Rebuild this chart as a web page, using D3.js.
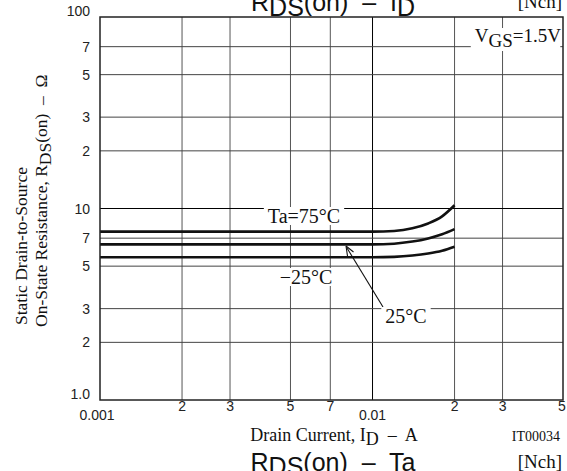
<!DOCTYPE html>
<html><head><meta charset="utf-8">
<script src="https://cdn.jsdelivr.net/npm/d3@7"></script>
<style>body{margin:0;background:#fff} text{white-space:pre}</style>
</head><body><svg id="c" width="567" height="471"></svg>
<script>
const xDomain = [0.001, 0.05];
const yDomain = [1, 100];
const xTicks = [0.001, 0.002, 0.003, 0.005, 0.007, 0.01, 0.02, 0.03, 0.05];
const xTickLabels = ["0.001", "2", "3", "5", "7", "0.01", "2", "3", "5"];
const yTicks = [1, 2, 3, 5, 7, 10, 20, 30, 50, 70, 100];
const yTickLabels = ["1.0", "2", "3", "5", "7", "10", "2", "3", "5", "7", "100"];
const currentA = [0.001, 0.005, 0.01, 0.012, 0.014, 0.016, 0.018, 0.02];
const r75 = [7.57, 7.57, 7.57, 7.63, 7.88, 8.35, 9.1, 10.4];
const r25 = [6.5, 6.5, 6.5, 6.55, 6.72, 6.98, 7.33, 7.8];
const rm25 = [5.56, 5.56, 5.56, 5.59, 5.68, 5.82, 6.02, 6.32];
const seriesList = [r75, r25, rm25];

const svg = d3.select("#c");
const L = 100, R = 563, T = 17, B = 400;
const x = d3.scaleLog().domain(xDomain).range([L, R]);
const y = d3.scaleLog().domain(yDomain).range([B, T]);
const sans = "'Liberation Sans', Arial, sans-serif";
const serif = "'Liberation Serif', 'Times New Roman', serif";

// grid
const g = svg.append("g");
xTicks.slice(1, -1).forEach(v => {
  g.append("line").attr("x1", x(v)).attr("x2", x(v)).attr("y1", T).attr("y2", B)
    .attr("stroke", v === 0.01 ? "#000" : "#555").attr("stroke-width", 1);
});
yTicks.slice(1, -1).forEach(v => {
  g.append("line").attr("x1", L).attr("x2", R).attr("y1", y(v)).attr("y2", y(v))
    .attr("stroke", v === 10 ? "#000" : "#444").attr("stroke-width", 1);
});

// curves
const line = d3.line().x((d, i) => x(currentA[i])).y(d => y(d)).curve(d3.curveMonotoneX);
seriesList.forEach(s => {
  svg.append("path").attr("d", line(s)).attr("fill", "none").attr("stroke", "#111").attr("stroke-width", 2.6);
});

// frame
svg.append("rect").attr("x", L).attr("y", T).attr("width", R - L).attr("height", B - T)
  .attr("fill", "none").attr("stroke", "#222").attr("stroke-width", 1.5);

// tick labels
xTicks.forEach((v, i) => {
  const dec = (v === 0.001 || v === 0.01);
  svg.append("text").attr("x", x(v) + (v === 0.05 ? -1 : v === 0.001 ? -3 : 0)).attr("y", dec ? 420 : 411)
    .attr("text-anchor", "middle").attr("font-family", sans).attr("font-size", 14)
    .attr("fill", "#222").text(xTickLabels[i]);
});
yTicks.forEach((v, i) => {
  svg.append("text").attr("x", 90).attr("y", y(v) + (v === 100 ? -1 : v === 1 ? -1 : 5))
    .attr("text-anchor", "end").attr("font-family", sans).attr("font-size", 14)
    .attr("fill", "#222").text(yTickLabels[i]);
});

// label helper with white background
function label(txt, cx, cy, size) {
  const t = svg.append("text").attr("x", cx).attr("y", cy).attr("text-anchor", "middle")
    .attr("font-family", serif).attr("font-size", size).attr("fill", "#111").text(txt);
  const bb = t.node().getBBox();
  svg.insert("rect", () => t.node()).attr("x", bb.x - 4).attr("y", bb.y + 2).attr("width", bb.width + 8)
    .attr("height", bb.height - 4).attr("fill", "#fff");
  return t;
}
label("Ta=75°C", 304, 223, 20);
label("\u221225°C", 306, 284, 20);
// arrow
svg.append("line").attr("x1", 383).attr("y1", 307).attr("x2", 347).attr("y2", 248)
  .attr("stroke", "#111").attr("stroke-width", 1.1);
svg.append("path").attr("d", "M346,246 L347.5,256 M346,246 L353.5,252").attr("stroke", "#111")
  .attr("stroke-width", 1.1).attr("fill", "none");
label("25°C", 406, 323, 20);

// VGS box
{
  const t = svg.append("text").attr("x", 561).attr("y", 42).attr("text-anchor", "end")
    .attr("font-family", serif).attr("font-size", 19).attr("fill", "#111");
  t.append("tspan").text("V");
  t.append("tspan").attr("dy", 5).text("GS");
  t.append("tspan").attr("dy", -5).text("=1.5V");
  const bb = t.node().getBBox();
  svg.insert("rect", () => t.node()).attr("x", bb.x - 4).attr("y", bb.y + 3).attr("width", bb.width + 3)
    .attr("height", bb.height - 3).attr("fill", "#fff");
}

// titles
{
  const t = svg.append("text").attr("x", 333).attr("y", 11).attr("text-anchor", "middle")
    .attr("font-family", sans).attr("font-size", 25).attr("fill", "#111");
  t.append("tspan").text("R");
  t.append("tspan").attr("dy", 5).text("DS");
  t.append("tspan").attr("dy", -5).text("(on)  \u2013  I");
  t.append("tspan").attr("dy", 5).text("D");
}
svg.append("text").attr("x", 562).attr("y", 8).attr("text-anchor", "end").attr("font-family", serif)
  .attr("font-size", 19).attr("fill", "#111").text("[Nch]");

{
  const t = svg.append("text").attr("x", 334).attr("y", 441).attr("text-anchor", "middle")
    .attr("font-family", serif).attr("font-size", 18).attr("fill", "#111");
  t.append("tspan").text("Drain Current, I");
  t.append("tspan").attr("dy", 4).text("D");
  t.append("tspan").attr("dy", -4).text("  \u2013  A");
}
svg.append("text").attr("x", 560).attr("y", 441).attr("text-anchor", "end").attr("font-family", serif)
  .attr("font-size", 14).attr("fill", "#111").text("IT00034");
{
  const t = svg.append("text").attr("x", 333).attr("y", 471).attr("text-anchor", "middle")
    .attr("font-family", sans).attr("font-size", 25).attr("fill", "#111");
  t.append("tspan").text("R");
  t.append("tspan").attr("dy", 4).text("DS");
  t.append("tspan").attr("dy", -4).text("(on)  \u2013  Ta");
}
svg.append("text").attr("x", 562).attr("y", 468).attr("text-anchor", "end").attr("font-family", serif)
  .attr("font-size", 19).attr("fill", "#111").text("[Nch]");

// y title
{
  svg.append("text").attr("transform", "translate(27,325) rotate(-90)")
    .attr("font-family", serif).attr("font-size", 17.5).attr("fill", "#111").text("Static Drain-to-Source");
  const t2 = svg.append("text").attr("transform", "translate(47,327) rotate(-90)")
    .attr("font-family", serif).attr("font-size", 17.5).attr("fill", "#111");
  t2.append("tspan").text("On-State Resistance, R");
  t2.append("tspan").attr("dy", 4).text("DS");
  t2.append("tspan").attr("dy", -4).text("(on)  \u2013  \u03A9");
}
</script></body></html>
